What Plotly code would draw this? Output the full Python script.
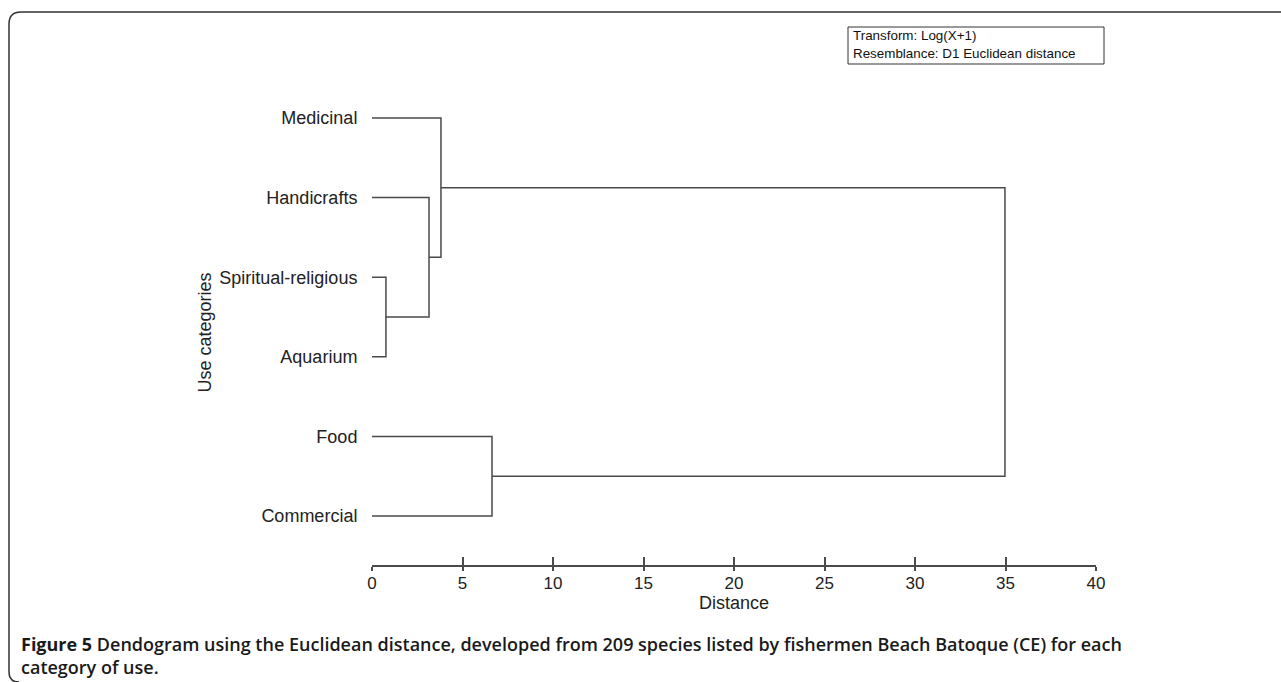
import plotly.graph_objects as go

# ---- data ----
categories = ["Medicinal", "Handicrafts", "Spiritual-religious", "Aquarium", "Food", "Commercial"]
# merges: (cluster a, cluster b, distance); new cluster ids start at len(categories)
merges = [(2, 3, 0.77), (1, 6, 3.15), (0, 7, 3.81), (4, 5, 6.63), (8, 9, 34.97)]
x_ticks = [0, 5, 10, 15, 20, 25, 30, 35, 40]

W, H = 1281, 682
L, R, T, B = 372, 1096, 100, 565
n = len(categories)
ypos = {i: float(n - 1 - i) for i in range(n)}
hpos = {i: 0.0 for i in range(n)}

line_color = "#4a4a4a"
fig = go.Figure()
for k, (a, b, d) in enumerate(merges):
    nid = n + k
    xs = [hpos[a], d, d, hpos[b]]
    ys = [ypos[a], ypos[a], ypos[b], ypos[b]]
    fig.add_trace(go.Scatter(x=xs, y=ys, mode="lines",
                             line=dict(color=line_color, width=1.5),
                             hoverinfo="skip", showlegend=False))
    ypos[nid] = (ypos[a] + ypos[b]) / 2
    hpos[nid] = d

# y range from pixel geometry
px_per_unit = (516 - 118) / (n - 1)
y_lo = -(B - 516) / px_per_unit
y_hi = (n - 1) + (118 - T) / px_per_unit


def px(x):
    return (x - L) / (R - L)


def py(y):
    return (B - y) / (B - T)


font_main = dict(family="Liberation Sans, Arial", size=18, color="#222")
font_tick = dict(family="Liberation Sans, Arial", size=17, color="#222")

fig.update_layout(
    width=W, height=H,
    margin=dict(l=L, r=W - R, t=T, b=H - B),
    paper_bgcolor="white", plot_bgcolor="white",
    font=font_main,
    xaxis=dict(range=[0, 40], tickvals=x_ticks, ticks="outside", ticklen=4,
               tickcolor=line_color, tickwidth=1.5, showline=True, linecolor=line_color,
               linewidth=1.5, showgrid=False, zeroline=False,
               tickfont=font_tick, ticklabelstandoff=-2,
               title=dict(text="Distance", font=font_main, standoff=4)),
    xaxis2=dict(range=[0, 40], tickvals=x_ticks, ticks="inside", ticklen=8,
                tickcolor=line_color, tickwidth=1.5, showticklabels=False,
                showgrid=False, zeroline=False, overlaying="x", side="bottom",
                anchor="y"),
    yaxis=dict(range=[y_lo, y_hi], tickvals=list(range(n)),
               ticktext=list(reversed(categories)), showline=False, showgrid=False,
               zeroline=False, ticks="outside", ticklen=10,
               tickcolor="rgba(0,0,0,0)", tickfont=font_main,
               title=dict(text="Use categories", font=font_main, standoff=3)),
)
# dummy trace to activate xaxis2
fig.add_trace(go.Scatter(x=[None], y=[None], xaxis="x2", showlegend=False))

# legend-like info box
fig.add_shape(type="rect", xref="paper", yref="paper",
              x0=px(848), x1=px(1104), y0=py(64), y1=py(27),
              line=dict(color="#333", width=1))
box_font = dict(family="Liberation Sans, Arial", size=13.4, color="#111")
fig.add_annotation(xref="paper", yref="paper", x=px(851), y=py(36), xanchor="left",
                   yanchor="middle", text="Transform: Log(X+1)", showarrow=False, font=box_font)
fig.add_annotation(xref="paper", yref="paper", x=px(851), y=py(53), xanchor="left",
                   yanchor="middle", text="Resemblance: D1 Euclidean distance",
                   showarrow=False, font=box_font)

# outer rounded frame
def P(x, y):
    return f"{px(x):.5f},{py(y):.5f}"

path = (f"M {P(1300, 12)} L {P(21, 12)} Q {P(9, 12)} {P(9, 24)} "
        f"L {P(9, 672)} Q {P(9, 682)} {P(19, 682)}")
fig.add_shape(type="path", xref="paper", yref="paper", path=path,
              line=dict(color="#333", width=1.5))

cap_font = dict(family="Open Sans", size=18, color="#1a1a1a", weight=600)
fig.add_annotation(xref="paper", yref="paper", x=px(19), y=py(655), xanchor="left",
                   yanchor="middle", showarrow=False, font=cap_font, align="left",
                   text="<b>Figure 5</b> Dendogram using the Euclidean distance, developed from 209 species listed by fishermen Beach Batoque (CE) for each"
                        "<br>category of use.")

fig.write_html("out.html")
